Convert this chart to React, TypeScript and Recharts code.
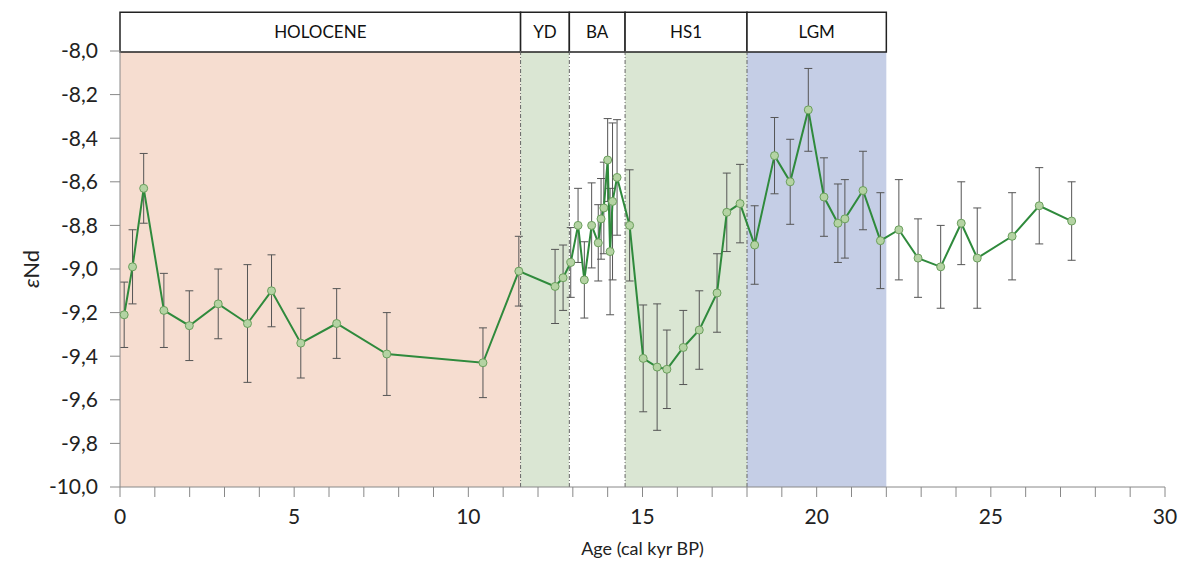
import React from "react";
import {
  LineChart,
  Line,
  XAxis,
  YAxis,
  ErrorBar,
  ReferenceArea,
  ReferenceLine,
} from "recharts";

// Age (cal kyr BP), eNd and 2-sigma error
const ages = [
  0.12, 0.36, 0.68, 1.26, 1.99, 2.82, 3.66, 4.35, 5.19, 6.22, 7.66, 10.42,
  11.45, 12.49, 12.72, 12.94, 13.15, 13.33, 13.54, 13.73, 13.81, 13.89, 14.0,
  14.07, 14.14, 14.27, 14.63, 15.02, 15.42, 15.7, 16.17, 16.63, 17.14, 17.42,
  17.8, 18.22, 18.79, 19.24, 19.76, 20.21, 20.61, 20.81, 21.33, 21.83, 22.36,
  22.91, 23.56, 24.15, 24.61, 25.61, 26.39, 27.32,
];
const eNd = [
  -9.21, -8.99, -8.63, -9.19, -9.26, -9.16, -9.25, -9.1, -9.34, -9.25, -9.39,
  -9.43, -9.01, -9.08, -9.04, -8.97, -8.8, -9.05, -8.8, -8.88, -8.77, -8.72,
  -8.5, -8.92, -8.69, -8.58, -8.8, -9.41, -9.45, -9.46, -9.36, -9.28, -9.11,
  -8.74, -8.7, -8.89, -8.48, -8.6, -8.27, -8.67, -8.79, -8.77, -8.64, -8.87,
  -8.82, -8.95, -8.99, -8.79, -8.95, -8.85, -8.71, -8.78,
];
const errors = [
  0.15, 0.17, 0.16, 0.17, 0.16, 0.16, 0.27, 0.165, 0.16, 0.16, 0.19, 0.16,
  0.16, 0.17, 0.15, 0.16, 0.17, 0.175, 0.195, 0.175, 0.185, 0.21, 0.19, 0.29,
  0.36, 0.265, 0.255, 0.245, 0.29, 0.18, 0.17, 0.18, 0.18, 0.18, 0.18, 0.18,
  0.175, 0.195, 0.19, 0.18, 0.18, 0.18, 0.18, 0.22, 0.23, 0.18, 0.19, 0.19,
  0.23, 0.2, 0.175, 0.18,
];

// climate periods
const periodNames = ["HOLOCENE", "YD", "BA", "HS1", "LGM"];
const periodStart = [0, 11.5, 12.9, 14.5, 18.0];
const periodEnd = [11.5, 12.9, 14.5, 18.0, 22.0];
const periodFill = ["#f6ddd0", "#dae6d3", "#ffffff", "#dae6d3", "#c5cee6"];

const xTicks = Array.from({ length: 31 }, (_, i) => i);
const yTicks = [-10, -9.8, -9.6, -9.4, -9.2, -9, -8.8, -8.6, -8.4, -8.2, -8];

const data = ages.map((age, i) => ({ age, eNd: eNd[i], err: errors[i] }));

const FONT = "Lato, 'Open Sans', sans-serif";

function YLabel(props: any) {
  const { viewBox } = props;
  const cy = viewBox.y + viewBox.height / 2;
  return (
    <text
      x={22}
      y={cy}
      transform={`rotate(-90, 22, ${cy})`}
      textAnchor="middle"
      dominantBaseline="central"
      fontSize={22}
      fontFamily={FONT}
      fill="#222"
    >
      <tspan fontStyle="italic">ε</tspan>Nd
    </text>
  );
}

export default function App() {
  return (
    <div style={{ width: 1170, height: 560 }}>
      <LineChart
        width={1170}
        height={560}
        data={data}
        margin={{ top: 43, right: 13, bottom: 21, left: 0 }}
      >
        {periodNames.map((name, i) => (
          <ReferenceArea
            key={"bg" + name}
            x1={periodStart[i]}
            x2={periodEnd[i]}
            y1={-10}
            y2={-8}
            fill={periodFill[i]}
            fillOpacity={1}
            stroke="none"
          />
        ))}
        {periodStart.slice(1).map((x) => (
          <ReferenceLine
            key={"l" + x}
            x={x}
            stroke="#666"
            strokeWidth={1}
            strokeDasharray="4 2 1 2"
          />
        ))}
        {periodNames.map((name, i) => (
          <ReferenceArea
            key={"hd" + name}
            x1={periodStart[i]}
            x2={periodEnd[i]}
            y1={-8.005}
            y2={-7.822}
            fill="#ffffff"
            fillOpacity={1}
            stroke="#222"
            strokeWidth={1.5}
            ifOverflow="visible"
            label={{
              value: name,
              position: "center",
              fill: "#111",
              fontSize: 17,
              fontFamily: FONT,
            }}
          />
        ))}
        <XAxis
          dataKey="age"
          type="number"
          domain={[0, 30]}
          ticks={xTicks}
          interval={0}
          tickFormatter={(v: number) => (v % 5 === 0 ? String(v) : "")}
          tickSize={10}
          tickMargin={12}
          height={60}
          stroke="#888"
          tick={{ fill: "#222", fontSize: 21, fontFamily: FONT }}
          label={{
            value: "Age (cal kyr BP)",
            position: "insideBottom",
            offset: -8,
            fill: "#222",
            fontSize: 18,
            fontFamily: FONT,
          }}
        />
        <YAxis
          type="number"
          domain={[-10, -8]}
          ticks={yTicks}
          interval={0}
          width={112}
          tickFormatter={(v: number) => v.toFixed(1).replace(".", ",")}
          tickSize={10}
          tickMargin={12}
          stroke="#888"
          tick={{ fill: "#222", fontSize: 21, fontFamily: FONT }}
          label={<YLabel />}
        />
        <Line
          type="linear"
          dataKey="eNd"
          stroke="#2f8a3c"
          strokeWidth={2}
          dot={{ r: 4, fill: "#b4d3a3", stroke: "#6a9f5c", strokeWidth: 1 }}
          isAnimationActive={false}
        >
          <ErrorBar
            dataKey="err"
            direction="y"
            width={4}
            stroke="#555"
            strokeWidth={1}
          />
        </Line>
      </LineChart>
    </div>
  );
}
